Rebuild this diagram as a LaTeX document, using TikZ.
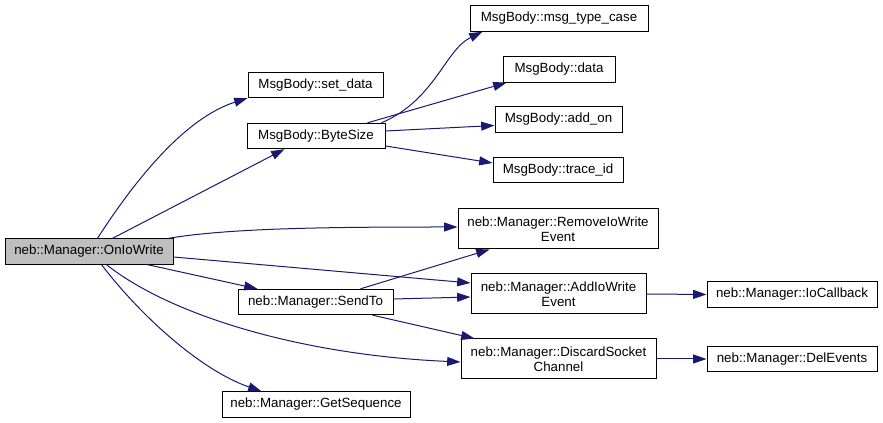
\documentclass[tikz,border=0pt]{standalone}
\usepackage{fontspec}
\setmainfont{Liberation Sans}
\usetikzlibrary{arrows.meta,calc}
\definecolor{edgec}{HTML}{191970}
\definecolor{grayfill}{HTML}{BFBFBF}
\begin{document}
\begin{tikzpicture}[x=0.75pt,y=-0.75pt,
  box/.style={draw=black,line width=0.75pt,inner sep=0pt,align=center,
    font=\fontsize{10}{11.25}\selectfont},
  one/.style={box,minimum height=19pt},
  two/.style={box,minimum height=30pt},
  edge/.style={draw=edgec,line width=0.75pt,-{Triangle[length=10pt,width=6.7pt]}}]
\useasboundingbox (0,0) rectangle (883,423);
% nodes
\node[one,fill=grayfill,minimum width=126pt] (on) at (89,251.5) {neb::Manager::OnIoWrite};
\node[one,minimum width=101.25pt] (sd) at (315.5,85) {MsgBody::set\_data};
\node[one,minimum width=103.5pt] (bs) at (316,136) {MsgBody::ByteSize};
\node[one,minimum width=116.25pt] (st) at (315.5,302) {neb::Manager::SendTo};
\node[one,minimum width=141pt] (gs) at (316,404.5) {neb::Manager::GetSequence};
\node[one,minimum width=133.5pt] (mt) at (559,18.5) {MsgBody::msg\_type\_case};
\node[one,minimum width=84pt] (da) at (559,69.5) {MsgBody::data};
\node[one,minimum width=95.25pt] (ao) at (558.5,119.5) {MsgBody::add\_on};
\node[one,minimum width=97.5pt] (ti) at (558,170) {MsgBody::trace\_id};
\node[two,minimum width=150pt] (rw) at (558,229) {neb::Manager::RemoveIoWrite\\Event};
\node[two,minimum width=131.25pt] (aw) at (558.5,294) {neb::Manager::AddIoWrite\\Event};
\node[two,minimum width=146.25pt] (dc) at (558.5,359) {neb::Manager::DiscardSocket\\Channel};
\node[one,minimum width=127.5pt] (ic) at (792,294.5) {neb::Manager::IoCallback};
\node[one,minimum width=127.5pt] (de) at (792,359) {neb::Manager::DelEvents};
% edges
\draw[edge] ($(on.north west)+(93,0)$) .. controls (135,180) and (185,118) .. (sd.south west);
\draw[edge] ($(on.north west)+(108,0)$) -- ($(bs.south west)+(38,0)$);
\draw[edge] ($(bs.north east)+(-4,0)$) .. controls (435,100) and (445,50) .. ($(mt.south west)+(13,0)$);
\draw[edge] ($(bs.north east)+(-18,0)$) -- ($(da.south west)+(4,0)$);
\draw[edge] ($(bs.east)+(0,-5)$) -- ($(ao.west)+(0,6)$);
\draw[edge] ($(bs.east)+(0,10)$) -- ($(ti.west)+(0,-7)$);
\draw[edge] ($(on.north east)+(-5,0)$) .. controls (230,228) and (330,227) .. ($(rw.west)+(0,-2)$);
\draw[edge] ($(on.east)+(0,5.5)$) -- ($(aw.west)+(0,-11)$);
\draw[edge] ($(on.south east)+(-26,0)$) -- ($(st.north west)+(20,0)$);
\draw[edge] ($(on.south west)+(102,0)$) .. controls (170,315) and (300,355) .. ($(dc.west)+(0,3)$);
\draw[edge] ($(on.south west)+(97,0)$) .. controls (140,315) and (200,370) .. ($(gs.north west)+(40,0)$);
\draw[edge] ($(st.north east)+(-33,0)$) -- ($(rw.south west)+(32,0)$);
\draw[edge] ($(st.east)+(0,-3)$) -- ($(aw.west)+(0,3)$);
\draw[edge] ($(st.south east)+(-21,0)$) -- ($(dc.north west)+(14,0)$);
\draw[edge] (aw.east) -- (ic.west);
\draw[edge] (dc.east) -- (de.west);
\end{tikzpicture}
\end{document}
